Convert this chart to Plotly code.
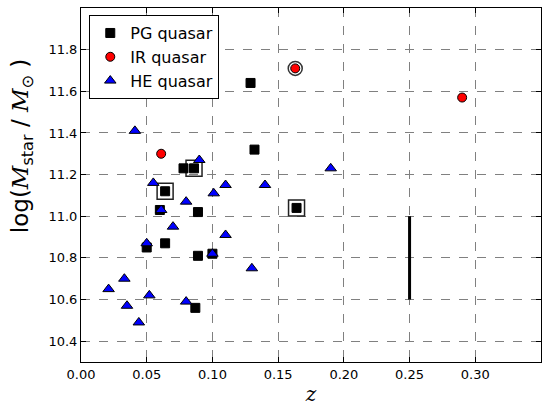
import plotly.graph_objects as go

# PG quasars
pg_z = [0.129, 0.132, 0.078, 0.086, 0.064, 0.060, 0.089, 0.164, 0.064, 0.050, 0.089, 0.100, 0.087]
pg_m = [11.64, 11.32, 11.23, 11.23, 11.12, 11.03, 11.02, 11.04, 10.87, 10.85, 10.81, 10.82, 10.56]
# IR quasars
ir_z = [0.061, 0.163, 0.290]
ir_m = [11.30, 11.71, 11.57]
# HE quasars
he_z = [0.041, 0.090, 0.055, 0.101, 0.110, 0.140, 0.190, 0.080, 0.061, 0.070, 0.110,
        0.050, 0.100, 0.130, 0.021, 0.033, 0.035, 0.052, 0.080, 0.044]
he_m = [11.41, 11.27, 11.16, 11.11, 11.15, 11.15, 11.23, 11.07, 11.03, 10.95, 10.91,
        10.87, 10.82, 10.75, 10.65, 10.70, 10.57, 10.62, 10.59, 10.49]
# highlighted objects
box_z = [0.086, 0.064, 0.164]
box_m = [11.23, 11.12, 11.04]
ring_z = [0.163]
ring_m = [11.71]
# vertical bar
bar_z = [0.25, 0.25]
bar_m = [10.6, 11.0]

xticks = [0.00, 0.05, 0.10, 0.15, 0.20, 0.25, 0.30]
yticks = [10.4, 10.6, 10.8, 11.0, 11.2, 11.4, 11.6, 11.8]

fig = go.Figure()
fig.add_trace(go.Scatter(x=bar_z, y=bar_m, mode="lines", line=dict(color="black", width=3),
                         showlegend=False, hoverinfo="skip"))
fig.add_trace(go.Scatter(x=box_z, y=box_m, mode="markers", showlegend=False,
                         marker=dict(symbol="square-open", size=16, color="#222",
                                     line=dict(width=1.5, color="#222"))))
fig.add_trace(go.Scatter(x=ring_z, y=ring_m, mode="markers", showlegend=False,
                         marker=dict(symbol="circle-open", size=14, color="#333",
                                     line=dict(width=1.5, color="#333"))))
fig.add_trace(go.Scatter(x=pg_z, y=pg_m, mode="markers", name="PG quasar",
                         marker=dict(symbol="square", size=9, color="black",
                                     line=dict(width=1, color="black"))))
fig.add_trace(go.Scatter(x=ir_z, y=ir_m, mode="markers", name="IR quasar",
                         marker=dict(symbol="circle", size=9, color="red",
                                     line=dict(width=1, color="black"))))
fig.add_trace(go.Scatter(x=he_z, y=he_m, mode="markers", name="HE quasar",
                         marker=dict(symbol="triangle-up", size=10, color="blue",
                                     line=dict(width=1, color="black"))))

axis_common = dict(showline=True, linecolor="black", linewidth=1, mirror="ticks",
                   ticks="inside", ticklen=5, tickcolor="black", automargin=False,
                   showgrid=True, gridcolor="#808080", griddash="dash", gridwidth=1,
                   zeroline=False, tickfont=dict(family="DejaVu Sans", size=13, color="black"))

fig.update_xaxes(range=[0, 0.35], tickvals=xticks, tickformat=".2f",
                 title=dict(text="<i>z</i>", font=dict(family="DejaVu Serif", size=20, color="black"),
                            standoff=17),
                 **axis_common)
fig.update_yaxes(range=[10.3, 12.0], tickvals=yticks, tickformat=".1f", **axis_common)

ytitle = ("log(<span style='font-family:DejaVu Serif'><i>M</i></span><sub>star</sub> / "
          "<span style='font-family:DejaVu Serif'><i>M</i></span><sub>⊙</sub> )")
fig.add_annotation(text=ytitle, xref="paper", yref="paper", x=-0.128, y=0.61,
                   xanchor="center", yanchor="middle", textangle=-90, showarrow=False,
                   font=dict(family="DejaVu Sans", size=23, color="black"))

fig.update_layout(
    width=542, height=406,
    margin=dict(l=81, r=1, t=8, b=44, autoexpand=False),
    paper_bgcolor="white", plot_bgcolor="white",
    legend=dict(x=0.018, y=0.98, xanchor="left", yanchor="top",
                bgcolor="white", bordercolor="black", borderwidth=1,
                font=dict(family="DejaVu Sans", size=16, color="black"),
                itemsizing="trace"),
)

fig.write_html("out.html", config={"displayModeBar": False},
               post_script="document.body.style.margin='0';document.body.style.overflow='hidden';")
